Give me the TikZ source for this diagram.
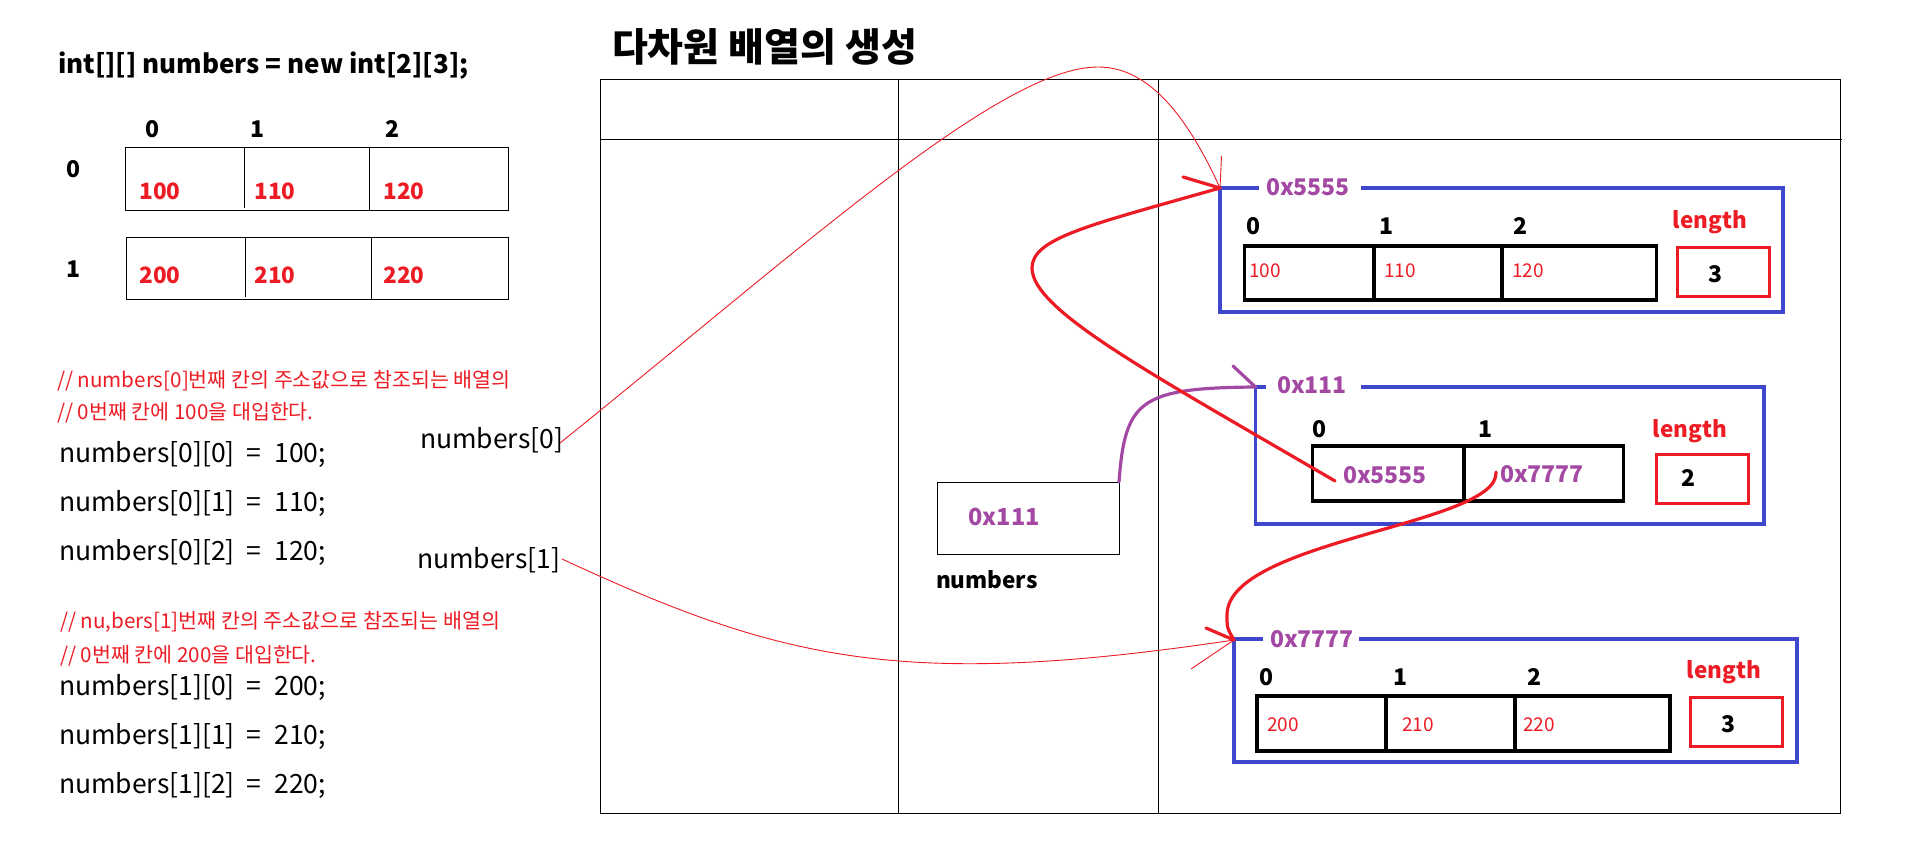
\documentclass[tikz,border=0pt]{standalone}
\usepackage{fontspec}
\setmainfont{Noto Sans CJK KR}
\definecolor{pred}{HTML}{ED1C24}
\definecolor{ppur}{HTML}{A349A4}
\definecolor{pblue}{HTML}{3F48CC}
\newcommand{\eqsp}{\hspace{12pt}=\hspace{13pt}}
\begin{document}
\begin{tikzpicture}[x=1pt,y=-1pt,
  every node/.style={inner sep=0pt, outer sep=0pt},
  code/.style={anchor=base west, font=\fontsize{26.5}{28}\selectfont},
  cmt/.style={anchor=base west, text=pred, font=\fontsize{20.6}{22}\selectfont},
  lbl/.style={anchor=base, font=\bfseries\fontsize{23}{24}\selectfont},
  val/.style={anchor=base, text=pred, font=\bfseries\fontsize{22.5}{24}\selectfont},
  sval/.style={anchor=base west, text=pred, font=\fontsize{19}{20}\selectfont},
  addr/.style={anchor=base west, text=ppur, font=\bfseries\fontsize{23}{24}\selectfont},
  lenl/.style={anchor=base, text=pred, font=\bfseries\fontsize{22.5}{24}\selectfont},
  tline/.style={line width=1pt, draw=black},
  cellbox/.style={line width=3.2pt, draw=black},
  bluebox/.style={line width=3.2pt, draw=pblue},
  lenbox/.style={line width=3pt, draw=pred},
  redthin/.style={draw=pred, line width=0.9pt},
  redthick/.style={draw=pred, line width=3.2pt, line cap=round},
  purp/.style={draw=ppur, line width=3.2pt, line cap=round},
]
\useasboundingbox (0,0) rectangle (1906,856);

% ---------------- left side ----------------
\node[anchor=base west, font=\bfseries\fontsize{26}{28}\selectfont] (decl) at (58,74) {int[][] numbers = new int[2][3];};

\node[lbl] (lc0) at (153,138) {0};
\node[lbl] (lc1) at (258,138) {1};
\node[lbl] (lc2) at (392,138) {2};
\node[lbl] (lr0) at (74,178) {0};
\node[lbl] (lr1) at (74,277) {1};

\draw[tline] (125,148) rectangle (508,210);
\draw[tline] (244.5,148) -- (244.5,208);
\draw[tline] (369.7,148) -- (369.7,210);
\draw[tline] (126,237) rectangle (508,299);
\draw[tline] (245,237) -- (245,297);
\draw[tline] (371,237) -- (371,299);

\node[val] (v100) at (160,199) {100};
\node[val] (v110) at (275,199) {110};
\node[val] (v120) at (404,199) {120};
\node[val] (v200) at (160,283) {200};
\node[val] (v210) at (275,283) {210};
\node[val] (v220) at (404,283) {220};

\node[cmt] (c1) at (57,387) {// numbers[0]번째 칸의 주소값으로 참조되는 배열의};
\node[cmt] (c2) at (57,419) {// 0번째 칸에 100을 대입한다.};
\node[code] (l1) at (59,462) {numbers[0][0]\eqsp 100;};
\node[code] (l2) at (59,511) {numbers[0][1]\eqsp 110;};
\node[code] (l3) at (59,560) {numbers[0][2]\eqsp 120;};
\node[cmt] (c3) at (60,628) {// nu,bers[1]번째 칸의 주소값으로 참조되는 배열의};
\node[cmt] (c4) at (60,662) {// 0번째 칸에 200을 대입한다.};
\node[code] (l4) at (59,695) {numbers[1][0]\eqsp 200;};
\node[code] (l5) at (59,744) {numbers[1][1]\eqsp 210;};
\node[code] (l6) at (59,793) {numbers[1][2]\eqsp 220;};

\node[code] (n0) at (420,448) {numbers[0]};
\node[code] (n1) at (417,568) {numbers[1]};

% ---------------- title and table ----------------
\node[anchor=west, font=\bfseries\fontsize{39}{40}\selectfont] (title) at (612,47) {다차원 배열의 생성};

\draw[tline] (600,80) rectangle (1840,813);
\draw[tline] (600,140) -- (1842,140);
\draw[tline] (898,80) -- (898,813);
\draw[tline] (1158,80) -- (1158,813);

% ---------------- stack variable ----------------
\node[draw, line width=1pt, minimum width=182pt, minimum height=72pt] (numbox) at (1028,518) {};
\node[anchor=base, text=ppur, font=\bfseries\fontsize{23.5}{25}\selectfont] (numval) at (1004,525) {0x111};
\node[anchor=base west, font=\bfseries\fontsize{22.5}{24}\selectfont] (numname) at (936,588) {numbers};

% ---------------- heap array 0x5555 ----------------
\draw[bluebox] (1361,188) -- (1783,188) -- (1783,312) -- (1220,312) -- (1220,188) -- (1259,188);
\node[addr] (aA) at (1266,195) {0x5555};
\node[lbl] (a0) at (1253,234) {0};
\node[lbl] (a1) at (1386,234) {1};
\node[lbl] (a2) at (1520,234) {2};
\draw[cellbox] (1244.5,246) rectangle (1656.6,300);
\draw[cellbox] (1374,246) -- (1374,302);
\draw[cellbox] (1502,246) -- (1502,300);
\node[sval] (av0) at (1249,277) {100};
\node[sval] (av1) at (1384,277) {110};
\node[sval] (av2) at (1512,277) {120};
\node[lenl] (alen) at (1710,228) {length};
\draw[lenbox] (1677,247) rectangle (1769,296);
\node[lbl] (alenv) at (1715,282) {3};

% ---------------- heap array 0x111 ----------------
\draw[bluebox] (1361,387) -- (1764,387) -- (1764,524) -- (1255.5,524) -- (1255.5,387) -- (1266,387);
\node[addr] (aB) at (1277,393) {0x111};
\node[lbl] (b0) at (1319,437) {0};
\node[lbl] (b1) at (1485,437) {1};
\draw[cellbox] (1312.5,446) rectangle (1623.5,501);
\draw[cellbox] (1464,446) -- (1464,501);
\node[addr] (bv0) at (1343,483) {0x5555};
\node[addr] (bv1) at (1500,482) {0x7777};
\node[lenl] (blen) at (1690,437) {length};
\draw[lenbox] (1656,454) rectangle (1748,503);
\node[lbl] (blenv) at (1688,486) {2};

% ---------------- heap array 0x7777 ----------------
\draw[bluebox] (1359,639) -- (1797,639) -- (1797,762) -- (1234,762) -- (1234,639) -- (1263,639);
\node[addr] (aC) at (1270,647) {0x7777};
\node[lbl] (c0) at (1266,685) {0};
\node[lbl] (c1l) at (1400,685) {1};
\node[lbl] (c2l) at (1534,685) {2};
\draw[cellbox] (1257,696) rectangle (1670,751);
\draw[cellbox] (1386,696) -- (1386,753);
\draw[cellbox] (1515,696) -- (1515,751);
\node[sval] (cv0) at (1267,731) {200};
\node[sval] (cv1) at (1402,731) {210};
\node[sval] (cv2) at (1523,731) {220};
\node[lenl] (clen) at (1724,678) {length};
\draw[lenbox] (1690,697) rectangle (1782,746);
\node[lbl] (clenv) at (1728,732) {3};

% ---------------- connectors ----------------
\coordinate (Acorner) at (1220,188);
\coordinate (Bcorner) at (1255.5,387);
\coordinate (Ccorner) at (1234,640);
\coordinate (n0end) at (560,443);
\coordinate (n1end) at (562,559);
\coordinate (s5555) at (1335,481);
\coordinate (s7777) at (1496,472);
\coordinate (barbA) at (1183,177);
\coordinate (barbAthin) at (1221.5,156);
\coordinate (barbB) at (1233,366);
\coordinate (barbC) at (1206,628);
\coordinate (barbCthin) at (1191,669);

% numbers[0] -> 0x5555
\draw[redthin] (n0end) .. controls (800,250) and (1000,67) .. (1098,67)
  .. controls (1140,67) and (1180,100) .. (Acorner);
\draw[redthin] (barbAthin) -- (Acorner);
% numbers[1] -> 0x7777
\draw[redthin] (n1end) .. controls (780,660) and (900,690) .. (Ccorner);
\draw[redthin] (barbCthin) -- (Ccorner);
% numbers -> 0x111
\draw[purp] (numbox.north east) .. controls (1125,400) and (1140,388) .. (Bcorner);
\draw[purp] (barbB) -- (Bcorner);
% 0x5555 cell -> 0x5555 array
\draw[redthick] (s5555) .. controls (1150,373) and (1032,310) .. (1032,268)
  .. controls (1032,238) and (1090,225) .. (Acorner);
\draw[redthick] (barbA) -- (Acorner);
% 0x7777 cell -> 0x7777 array
\draw[redthick] (s7777) .. controls (1500,525) and (1227,540) .. (1227,615)
  .. controls (1227,628) .. (Ccorner);
\draw[redthick] (barbC) -- (Ccorner);
\end{tikzpicture}
\end{document}
